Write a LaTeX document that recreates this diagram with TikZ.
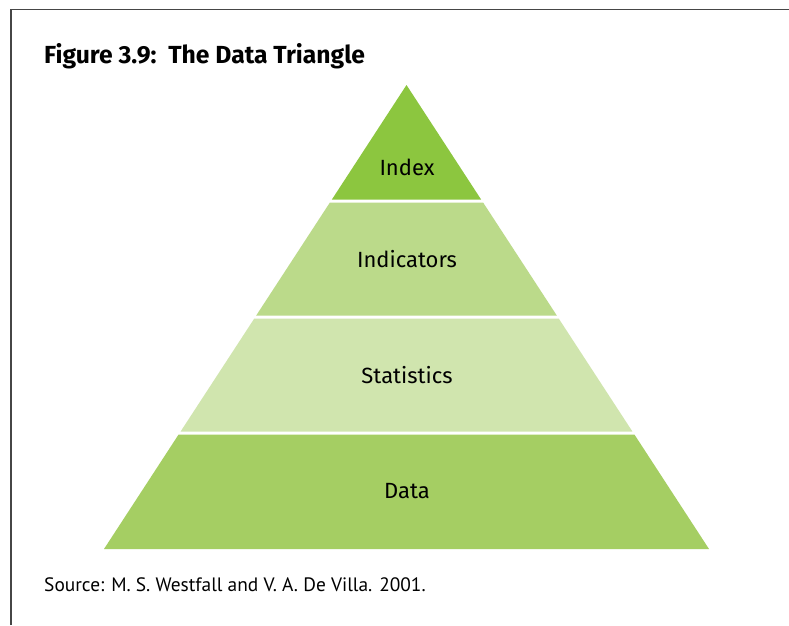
\documentclass[tikz,border=0pt]{standalone}
\usepackage{fontspec}
\setmainfont{Fira Sans}
\newfontfamily\srcfont{PT Sans}
\definecolor{cindex}{RGB}{140,198,63}
\definecolor{cindic}{RGB}{187,218,138}
\definecolor{cstat}{RGB}{208,229,174}
\definecolor{cdata}{RGB}{165,206,99}
\definecolor{frame}{RGB}{70,70,70}
\tikzset{
  band/.style={draw=none},
  lbl/.style={anchor=base, inner sep=0pt, font=\fontsize{22}{26}\selectfont},
}
\begin{document}
\begin{tikzpicture}[x=1pt,y=-1pt]
\useasboundingbox (0,0) rectangle (789,625);
\fill[white] (0,0) rectangle (789,625);
% frame
\draw[frame, line width=1.3pt] (11,625) -- (11,9.5) -- (789,9.5);
% title
\node[anchor=base west, inner sep=0pt, font=\fontsize{24.7}{28}\selectfont\bfseries] (title) at (44,63) {Figure 3.9:\ \ The Data Triangle};
% bands
\fill[cindex, band] (406.5,85) -- (481.1,199.5) -- (331.9,199.5) -- cycle;
\fill[cindic, band] (329.9,202.5) -- (483.1,202.5) -- (556.8,315.5) -- (256.2,315.5) -- cycle;
\fill[cstat, band] (254.3,318.5) -- (558.7,318.5) -- (632.4,431.5) -- (180.6,431.5) -- cycle;
\fill[cdata, band] (178.6,434.5) -- (634.4,434.5) -- (709.0,549) -- (104.0,549) -- cycle;
% labels
\node[lbl] (index) at (407,175) {Index};
\node[lbl] (indicators) at (407,267) {Indicators};
\node[lbl] (statistics) at (407,383) {Statistics};
\node[lbl] (data) at (407,498) {Data};
% source
\node[anchor=base west, inner sep=0pt, font=\srcfont\fontsize{19.4}{23}\selectfont] (source) at (44,591) {Source: M. S. Westfall and V. A. De Villa. 2001.};
\end{tikzpicture}
\end{document}
